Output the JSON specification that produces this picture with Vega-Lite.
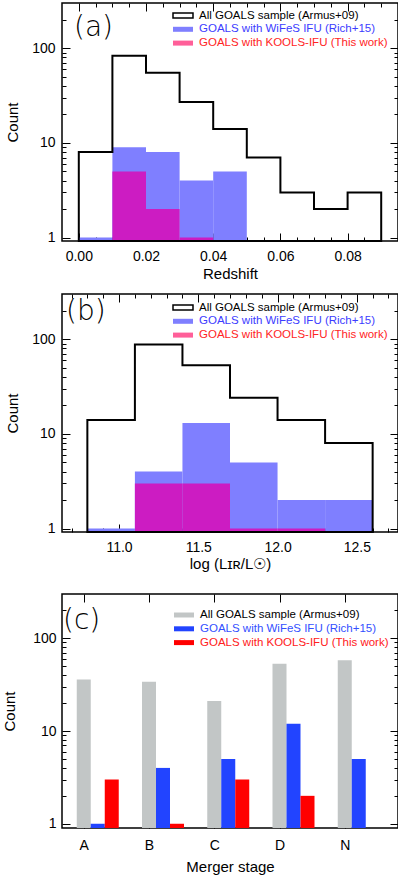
{
  "$schema": "https://vega.github.io/schema/vega-lite/v6.json",
  "padding": {"left": 1, "top": 1, "right": 1, "bottom": 0},
  "background": "white",
  "spacing": 10,
  "resolve": {"scale": {"fill": "independent"}, "legend": {"fill": "independent"}},
  "config": {
    "font": "Liberation Sans",
    "view": {"stroke": "black", "strokeWidth": 1.5},
    "axis": {
      "domain": false, "grid": false,
      "labelFont": "Liberation Sans", "labelFontSize": 14, "labelColor": "black",
      "titleFont": "Liberation Sans", "titleFontSize": 15, "titleFontWeight": "normal", "titleColor": "black",
      "tickColor": "black", "tickWidth": 1,
      "labelOverlap": false, "labelBound": false, "labelFlush": false
    },
    "legend": {
      "labelFont": "Liberation Sans", "labelFontSize": 11.5, "labelLimit": 300,
      "symbolType": "M-2,-0.5H2V0.5H-2Z", "symbolSize": 100,
      "labelOffset": 10, "rowPadding": 1.8, "padding": 0
    }
  },
  "datasets": {
    "redshift": [
      {"series": "All GOALS sample (Armus+09)", "z0": 0.00, "z1": 0.01, "n": 8},
      {"series": "All GOALS sample (Armus+09)", "z0": 0.01, "z1": 0.02, "n": 83},
      {"series": "All GOALS sample (Armus+09)", "z0": 0.02, "z1": 0.03, "n": 55},
      {"series": "All GOALS sample (Armus+09)", "z0": 0.03, "z1": 0.04, "n": 27},
      {"series": "All GOALS sample (Armus+09)", "z0": 0.04, "z1": 0.05, "n": 14},
      {"series": "All GOALS sample (Armus+09)", "z0": 0.05, "z1": 0.06, "n": 7},
      {"series": "All GOALS sample (Armus+09)", "z0": 0.06, "z1": 0.07, "n": 3},
      {"series": "All GOALS sample (Armus+09)", "z0": 0.07, "z1": 0.08, "n": 2},
      {"series": "All GOALS sample (Armus+09)", "z0": 0.08, "z1": 0.09, "n": 3},
      {"series": "GOALS with WiFeS IFU (Rich+15)", "z0": 0.00, "z1": 0.01, "n": 1},
      {"series": "GOALS with WiFeS IFU (Rich+15)", "z0": 0.01, "z1": 0.02, "n": 9},
      {"series": "GOALS with WiFeS IFU (Rich+15)", "z0": 0.02, "z1": 0.03, "n": 8},
      {"series": "GOALS with WiFeS IFU (Rich+15)", "z0": 0.03, "z1": 0.04, "n": 4},
      {"series": "GOALS with WiFeS IFU (Rich+15)", "z0": 0.04, "z1": 0.05, "n": 5},
      {"series": "GOALS with KOOLS-IFU (This work)", "z0": 0.01, "z1": 0.02, "n": 5},
      {"series": "GOALS with KOOLS-IFU (This work)", "z0": 0.02, "z1": 0.03, "n": 2},
      {"series": "GOALS with KOOLS-IFU (This work)", "z0": 0.03, "z1": 0.04, "n": 1}
    ],
    "lir": [
      {"series": "All GOALS sample (Armus+09)", "l0": 10.8, "l1": 11.1, "n": 14},
      {"series": "All GOALS sample (Armus+09)", "l0": 11.1, "l1": 11.4, "n": 88},
      {"series": "All GOALS sample (Armus+09)", "l0": 11.4, "l1": 11.7, "n": 53},
      {"series": "All GOALS sample (Armus+09)", "l0": 11.7, "l1": 12.0, "n": 24},
      {"series": "All GOALS sample (Armus+09)", "l0": 12.0, "l1": 12.3, "n": 14},
      {"series": "All GOALS sample (Armus+09)", "l0": 12.3, "l1": 12.6, "n": 8},
      {"series": "GOALS with WiFeS IFU (Rich+15)", "l0": 10.8, "l1": 11.1, "n": 1},
      {"series": "GOALS with WiFeS IFU (Rich+15)", "l0": 11.1, "l1": 11.4, "n": 4},
      {"series": "GOALS with WiFeS IFU (Rich+15)", "l0": 11.4, "l1": 11.7, "n": 13},
      {"series": "GOALS with WiFeS IFU (Rich+15)", "l0": 11.7, "l1": 12.0, "n": 5},
      {"series": "GOALS with WiFeS IFU (Rich+15)", "l0": 12.0, "l1": 12.3, "n": 2},
      {"series": "GOALS with WiFeS IFU (Rich+15)", "l0": 12.3, "l1": 12.6, "n": 2},
      {"series": "GOALS with KOOLS-IFU (This work)", "l0": 11.1, "l1": 11.4, "n": 3},
      {"series": "GOALS with KOOLS-IFU (This work)", "l0": 11.4, "l1": 11.7, "n": 3},
      {"series": "GOALS with KOOLS-IFU (This work)", "l0": 11.7, "l1": 12.0, "n": 1},
      {"series": "GOALS with KOOLS-IFU (This work)", "l0": 12.0, "l1": 12.3, "n": 1}
    ],
    "merger": [
      {"series": "All GOALS sample (Armus+09)", "stage": "A", "n": 36},
      {"series": "All GOALS sample (Armus+09)", "stage": "B", "n": 34},
      {"series": "All GOALS sample (Armus+09)", "stage": "C", "n": 21},
      {"series": "All GOALS sample (Armus+09)", "stage": "D", "n": 53},
      {"series": "All GOALS sample (Armus+09)", "stage": "N", "n": 58},
      {"series": "GOALS with WiFeS IFU (Rich+15)", "stage": "A", "n": 1},
      {"series": "GOALS with WiFeS IFU (Rich+15)", "stage": "B", "n": 4},
      {"series": "GOALS with WiFeS IFU (Rich+15)", "stage": "C", "n": 5},
      {"series": "GOALS with WiFeS IFU (Rich+15)", "stage": "D", "n": 12},
      {"series": "GOALS with WiFeS IFU (Rich+15)", "stage": "N", "n": 5},
      {"series": "GOALS with KOOLS-IFU (This work)", "stage": "A", "n": 3},
      {"series": "GOALS with KOOLS-IFU (This work)", "stage": "B", "n": 1},
      {"series": "GOALS with KOOLS-IFU (This work)", "stage": "C", "n": 3},
      {"series": "GOALS with KOOLS-IFU (This work)", "stage": "D", "n": 2}
    ]
  },
  "vconcat": [
    {
      "width": 336, "height": 238,
      "title": {"text": "(a)", "anchor": "start", "frame": "group", "orient": "top", "offset": -39, "dx": 12, "font": "DejaVu Sans", "fontWeight": 200, "fontSize": 28, "color": "black"},
      "data": {"name": "redshift"},
      "layer": [
        {
          "transform": [{"filter": "datum.series == 'GOALS with WiFeS IFU (Rich+15)'"}],
          "mark": {"type": "bar"},
          "encoding": {
            "x": {"field": "z0", "type": "quantitative", "scale": {"domain": [-0.005, 0.095], "nice": false, "zero": false},
                  "axis": {"orient": "bottom", "title": "Redshift", "values": [0, 0.005, 0.01, 0.015, 0.02, 0.025, 0.03, 0.035, 0.04, 0.045, 0.05, 0.055, 0.06, 0.065, 0.07, 0.075, 0.08, 0.085, 0.09],
                           "labelExpr": "indexof([0, 0.02, 0.04, 0.06, 0.08], datum.value) >= 0 ? format(datum.value, '.2f') : ''",
                           "tickSize": {"condition": {"test": "indexof([0, 0.02, 0.04, 0.06, 0.08], datum.value) >= 0", "value": -8}, "value": -4},
                           "labelPadding": 16, "titlePadding": -1}},
            "x2": {"field": "z1"},
            "y": {"field": "n", "type": "quantitative", "stack": null, "scale": {"type": "log", "domain": [0.92, 300], "nice": false},
                  "axis": {"orient": "left", "title": "Count", "values": [1, 2, 3, 4, 5, 6, 7, 8, 9, 10, 20, 30, 40, 50, 60, 70, 80, 90, 100, 200],
                           "labelExpr": "datum.value == 1 || datum.value == 10 || datum.value == 100 ? format(datum.value, 'd') : ''",
                           "tickSize": {"condition": {"test": "datum.value == 1 || datum.value == 10 || datum.value == 100", "value": -8}, "value": -4},
                           "labelPadding": 15, "titlePadding": 11}},
            "y2": {"datum": 0.92},
            "fill": {"field": "series", "type": "nominal",
                     "scale": {"domain": ["All GOALS sample (Armus+09)", "GOALS with WiFeS IFU (Rich+15)", "GOALS with KOOLS-IFU (This work)"], "range": ["white", "#7f7fff", "#ff5f99"]},
                     "legend": {"orient": "none", "legendX": 115, "legendY": 6.5, "title": null,
                                "labelColor": {"expr": "indexof(datum.value, 'WiFeS') >= 0 ? '#3c3cff' : indexof(datum.value, 'KOOLS') >= 0 ? '#ff2424' : 'black'"},
                                "symbolStrokeColor": {"expr": "indexof(datum.value, 'All') == 0 ? 'black' : 'transparent'"},
                                "symbolStrokeWidth": 1.5}}
          }
        },
        {
          "transform": [{"filter": "datum.series == 'GOALS with KOOLS-IFU (This work)'"}],
          "mark": {"type": "bar", "fill": "#cc1cc2"},
          "encoding": {
            "x": {"field": "z0", "type": "quantitative", "scale": {"domain": [-0.005, 0.095], "nice": false, "zero": false},
                  "axis": {"orient": "top", "title": null, "labels": false, "values": [0, 0.005, 0.01, 0.015, 0.02, 0.025, 0.03, 0.035, 0.04, 0.045, 0.05, 0.055, 0.06, 0.065, 0.07, 0.075, 0.08, 0.085, 0.09],
                           "tickSize": {"condition": {"test": "indexof([0, 0.02, 0.04, 0.06, 0.08], datum.value) >= 0", "value": -8}, "value": -4}}},
            "x2": {"field": "z1"},
            "y": {"field": "n", "type": "quantitative", "stack": null, "scale": {"type": "log", "domain": [0.92, 300], "nice": false},
                  "axis": {"orient": "right", "title": null, "labels": false, "values": [1, 2, 3, 4, 5, 6, 7, 8, 9, 10, 20, 30, 40, 50, 60, 70, 80, 90, 100, 200],
                           "tickSize": {"condition": {"test": "datum.value == 1 || datum.value == 10 || datum.value == 100", "value": -8}, "value": -4}}},
            "y2": {"datum": 0.92}
          }
        },
        {
          "transform": [{"filter": "datum.series == 'All GOALS sample (Armus+09)'"}, {"fold": ["z0", "z1"], "as": ["edge", "z"]}],
          "mark": {"type": "area", "fill": "transparent", "stroke": "black", "strokeWidth": 2, "strokeJoin": "miter"},
          "encoding": {
            "x": {"field": "z", "type": "quantitative", "scale": {"domain": [-0.005, 0.095], "nice": false, "zero": false}, "axis": null},
            "y": {"field": "n", "type": "quantitative", "stack": null, "scale": {"type": "log", "domain": [0.92, 300], "nice": false}, "axis": null}
          }
        }
      ],
      "resolve": {"axis": {"x": "independent", "y": "independent"}}
    },
    {
      "width": 336, "height": 238,
      "title": {"text": "(b)", "anchor": "start", "frame": "group", "orient": "top", "offset": -32, "dx": 4, "font": "DejaVu Sans", "fontWeight": 200, "fontSize": 28, "color": "black"},
      "data": {"name": "lir"},
      "layer": [
        {
          "transform": [{"filter": "datum.series == 'GOALS with WiFeS IFU (Rich+15)'"}],
          "mark": {"type": "bar"},
          "encoding": {
            "x": {"field": "l0", "type": "quantitative", "scale": {"domain": [10.64, 12.76], "nice": false, "zero": false},
                  "axis": {"orient": "bottom", "title": "log (Lɪʀ/L☉)", "values": [10.7, 10.8, 10.9, 11.0, 11.1, 11.2, 11.3, 11.4, 11.5, 11.6, 11.7, 11.8, 11.9, 12.0, 12.1, 12.2, 12.3, 12.4, 12.5, 12.6, 12.7],
                           "labelExpr": "indexof([11, 11.5, 12, 12.5], datum.value) >= 0 ? format(datum.value, '.1f') : ''",
                           "tickSize": {"condition": {"test": "indexof([11, 11.5, 12, 12.5], datum.value) >= 0", "value": -8}, "value": -4},
                           "labelPadding": 16, "titlePadding": -2}},
            "x2": {"field": "l1"},
            "y": {"field": "n", "type": "quantitative", "stack": null, "scale": {"type": "log", "domain": [0.92, 300], "nice": false},
                  "axis": {"orient": "left", "title": "Count", "values": [1, 2, 3, 4, 5, 6, 7, 8, 9, 10, 20, 30, 40, 50, 60, 70, 80, 90, 100, 200],
                           "labelExpr": "datum.value == 1 || datum.value == 10 || datum.value == 100 ? format(datum.value, 'd') : ''",
                           "tickSize": {"condition": {"test": "datum.value == 1 || datum.value == 10 || datum.value == 100", "value": -8}, "value": -4},
                           "labelPadding": 15, "titlePadding": 11}},
            "y2": {"datum": 0.92},
            "fill": {"field": "series", "type": "nominal",
                     "scale": {"domain": ["All GOALS sample (Armus+09)", "GOALS with WiFeS IFU (Rich+15)", "GOALS with KOOLS-IFU (This work)"], "range": ["white", "#7f7fff", "#ff5f99"]},
                     "legend": {"orient": "none", "legendX": 115, "legendY": 7.5, "title": null,
                                "labelColor": {"expr": "indexof(datum.value, 'WiFeS') >= 0 ? '#3c3cff' : indexof(datum.value, 'KOOLS') >= 0 ? '#ff2424' : 'black'"},
                                "symbolStrokeColor": {"expr": "indexof(datum.value, 'All') == 0 ? 'black' : 'transparent'"},
                                "symbolStrokeWidth": 1.5}}
          }
        },
        {
          "transform": [{"filter": "datum.series == 'GOALS with KOOLS-IFU (This work)'"}],
          "mark": {"type": "bar", "fill": "#cc1cc2"},
          "encoding": {
            "x": {"field": "l0", "type": "quantitative", "scale": {"domain": [10.64, 12.76], "nice": false, "zero": false},
                  "axis": {"orient": "top", "title": null, "labels": false, "values": [10.7, 10.8, 10.9, 11.0, 11.1, 11.2, 11.3, 11.4, 11.5, 11.6, 11.7, 11.8, 11.9, 12.0, 12.1, 12.2, 12.3, 12.4, 12.5, 12.6, 12.7],
                           "tickSize": {"condition": {"test": "indexof([11, 11.5, 12, 12.5], datum.value) >= 0", "value": -8}, "value": -4}}},
            "x2": {"field": "l1"},
            "y": {"field": "n", "type": "quantitative", "stack": null, "scale": {"type": "log", "domain": [0.92, 300], "nice": false},
                  "axis": {"orient": "right", "title": null, "labels": false, "values": [1, 2, 3, 4, 5, 6, 7, 8, 9, 10, 20, 30, 40, 50, 60, 70, 80, 90, 100, 200],
                           "tickSize": {"condition": {"test": "datum.value == 1 || datum.value == 10 || datum.value == 100", "value": -8}, "value": -4}}},
            "y2": {"datum": 0.92}
          }
        },
        {
          "transform": [{"filter": "datum.series == 'All GOALS sample (Armus+09)'"}, {"fold": ["l0", "l1"], "as": ["edge", "l"]}],
          "mark": {"type": "area", "fill": "transparent", "stroke": "black", "strokeWidth": 2, "strokeJoin": "miter"},
          "encoding": {
            "x": {"field": "l", "type": "quantitative", "scale": {"domain": [10.64, 12.76], "nice": false, "zero": false}, "axis": null},
            "y": {"field": "n", "type": "quantitative", "stack": null, "scale": {"type": "log", "domain": [0.92, 300], "nice": false}, "axis": null}
          }
        }
      ],
      "resolve": {"axis": {"x": "independent", "y": "independent"}}
    },
    {
      "width": 336, "height": 234,
      "title": {"text": "(c)", "anchor": "start", "frame": "group", "orient": "top", "offset": -51, "dx": 1, "font": "DejaVu Sans", "fontWeight": 200, "fontSize": 28, "color": "black"},
      "data": {"name": "merger"},
      "layer": [
        {
          "transform": [{"filter": "datum.series == 'All GOALS sample (Armus+09)'"}],
          "mark": {"type": "bar", "width": 14, "xOffset": 0},
          "encoding": {
            "x": {"field": "stage", "type": "nominal", "scale": {"type": "point", "domain": ["A", "B", "C", "D", "N"], "padding": 0.5747, "align": 0.29},
                  "axis": {"orient": "bottom", "title": "Merger stage", "labelAngle": 0, "tickSize": -8, "labelPadding": 18, "titlePadding": 7}},
            "y": {"field": "n", "type": "quantitative", "stack": null, "scale": {"type": "log", "domain": [0.9, 300], "nice": false},
                  "axis": {"orient": "left", "title": "Count", "values": [1, 2, 3, 4, 5, 6, 7, 8, 9, 10, 20, 30, 40, 50, 60, 70, 80, 90, 100, 200],
                           "labelExpr": "datum.value == 1 || datum.value == 10 || datum.value == 100 ? format(datum.value, 'd') : ''",
                           "tickSize": {"condition": {"test": "datum.value == 1 || datum.value == 10 || datum.value == 100", "value": -8}, "value": -4},
                           "labelPadding": 14, "titlePadding": 15}},
            "y2": {"datum": 0.9},
            "fill": {"field": "series", "type": "nominal",
                     "scale": {"domain": ["All GOALS sample (Armus+09)", "GOALS with WiFeS IFU (Rich+15)", "GOALS with KOOLS-IFU (This work)"], "range": ["#c2c6c6", "#2244ff", "#ff0000"]},
                     "legend": {"orient": "none", "legendX": 116, "legendY": 15, "title": null,
                                "labelColor": {"expr": "indexof(datum.value, 'WiFeS') >= 0 ? '#3350ff' : indexof(datum.value, 'KOOLS') >= 0 ? '#ff2020' : 'black'"}}}
          }
        },
        {
          "transform": [{"filter": "datum.series == 'GOALS with WiFeS IFU (Rich+15)'"}],
          "mark": {"type": "bar", "width": 14, "xOffset": 14},
          "encoding": {
            "x": {"field": "stage", "type": "nominal", "scale": {"type": "point", "domain": ["A", "B", "C", "D", "N"], "padding": 0.5747, "align": 0.29},
                  "axis": {"orient": "top", "title": " ", "titleFontSize": 9.5, "titlePadding": 0, "labels": false, "tickSize": -8}},
            "y": {"field": "n", "type": "quantitative", "stack": null, "scale": {"type": "log", "domain": [0.9, 300], "nice": false},
                  "axis": {"orient": "right", "title": null, "labels": false, "values": [1, 2, 3, 4, 5, 6, 7, 8, 9, 10, 20, 30, 40, 50, 60, 70, 80, 90, 100, 200],
                           "tickSize": {"condition": {"test": "datum.value == 1 || datum.value == 10 || datum.value == 100", "value": -8}, "value": -4}}},
            "y2": {"datum": 0.9},
            "fill": {"field": "series", "type": "nominal"}
          }
        },
        {
          "transform": [{"filter": "datum.series == 'GOALS with KOOLS-IFU (This work)'"}],
          "mark": {"type": "bar", "width": 14, "xOffset": 28},
          "encoding": {
            "x": {"field": "stage", "type": "nominal", "scale": {"type": "point", "domain": ["A", "B", "C", "D", "N"], "padding": 0.5747, "align": 0.29}, "axis": null},
            "y": {"field": "n", "type": "quantitative", "stack": null, "scale": {"type": "log", "domain": [0.9, 300], "nice": false}, "axis": null},
            "y2": {"datum": 0.9},
            "fill": {"field": "series", "type": "nominal"}
          }
        }
      ],
      "resolve": {"axis": {"x": "independent", "y": "independent"}}
    }
  ]
}
